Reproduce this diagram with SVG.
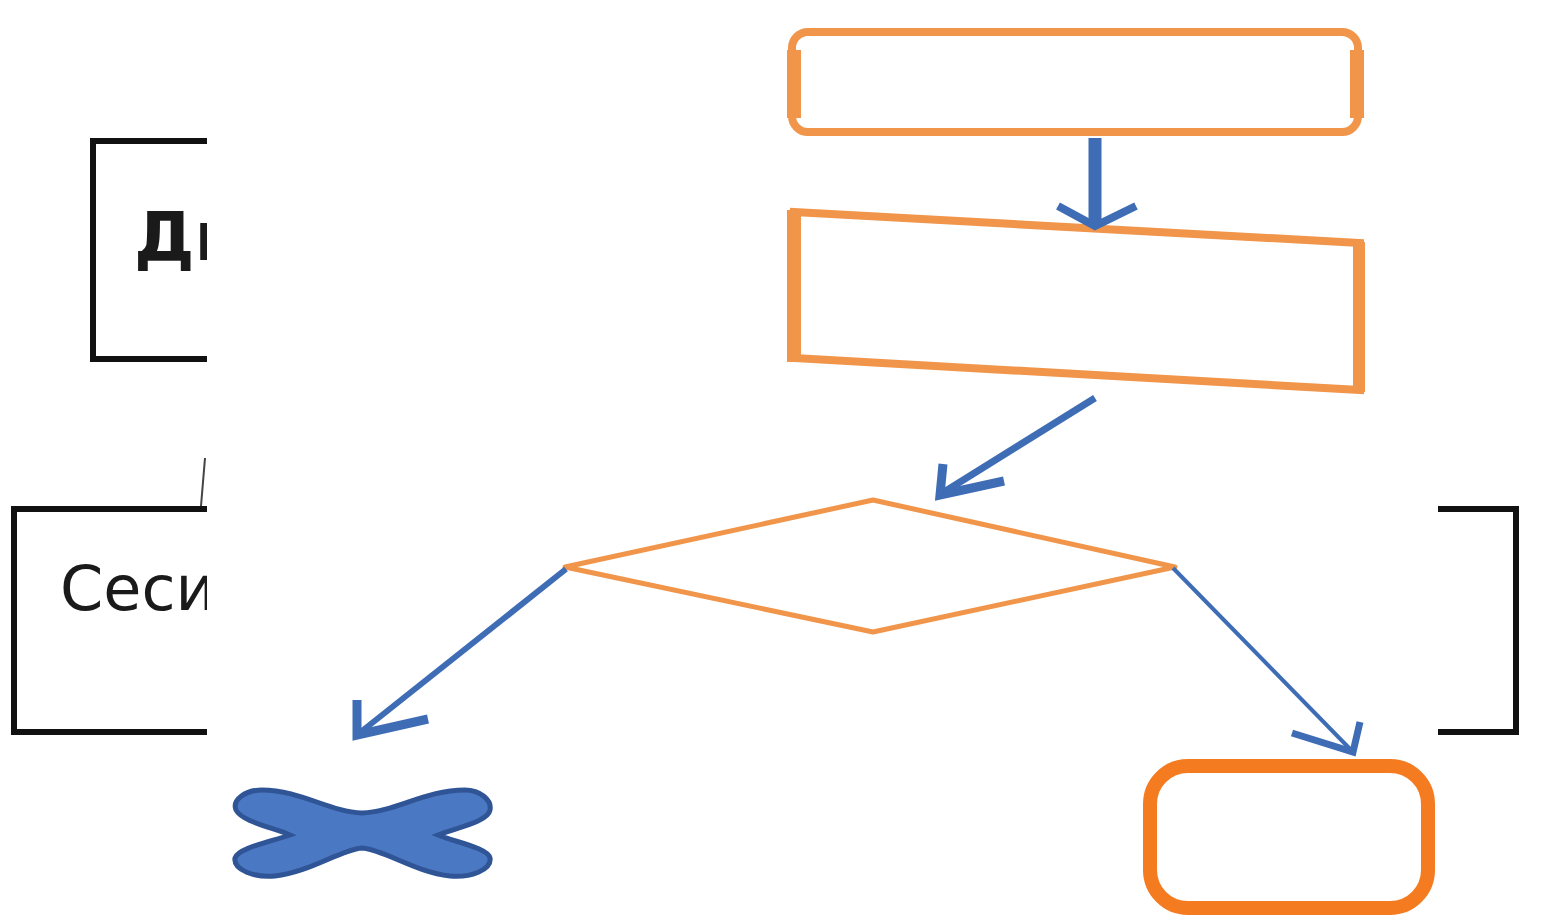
<svg xmlns="http://www.w3.org/2000/svg" width="1557" height="921" viewBox="0 0 1557 921">
<style>
.blk{fill:#fff;stroke:#111;stroke-width:6}
.lbl{font-family:"DejaVu Sans","Noto Sans",sans-serif;fill:#1a1a1a}
.orng{fill:#fff;stroke:#F0954A;stroke-linejoin:round}
.conn{fill:none;stroke:#3E6DB5;stroke-linecap:butt;stroke-linejoin:miter}
</style>
<rect width="1557" height="921" fill="#fff"/>
<g id="node-left-top">
<rect class="blk" x="93" y="141" width="200" height="218"/>
<text class="lbl" x="134" y="260" font-size="68" font-weight="bold">Ди</text>
</g>
<g id="node-bottom-wide">
<rect class="blk" x="14" y="509" width="1502" height="223"/>
<text class="lbl" x="60" y="610" font-size="62">Сеси</text>
</g>
<line x1="205" y1="458" x2="201" y2="506" stroke="#444" stroke-width="2"/>
<rect id="cover" x="207" y="0" width="1231" height="921" fill="#fff"/>
<g id="node-start">
<rect x="792" y="32" width="566" height="100" rx="16" fill="#fff" stroke="#F0954A" stroke-width="8"/>
<line x1="794" y1="50" x2="794" y2="118" stroke="#F0954A" stroke-width="14"/>
<line x1="1357" y1="50" x2="1357" y2="118" stroke="#F0954A" stroke-width="14"/>
</g>
<g id="node-process">
<polygon points="794,212 1360,243 1360,390 794,358" fill="#fff" stroke="#F0954A" stroke-width="8"/>
<line x1="794" y1="210" x2="794" y2="362" stroke="#F0954A" stroke-width="14"/>
<line x1="1359" y1="242" x2="1359" y2="392" stroke="#F0954A" stroke-width="12"/>
</g>
<g id="node-decision">
<polygon class="orng" points="565,567 873,500 1175,567 873,632" stroke-width="5"/>
</g>
<g id="node-end-no">
<path d="M362,813 C330,812 300,790 262,790 C245,790 232,800 236,810 C242,822 275,828 290,835 C270,842 238,848 235,858 C233,870 255,878 275,876 C310,872 340,850 362,848 C385,850 415,872 450,876 C470,878 492,870 490,858 C488,848 455,842 438,835 C455,828 488,822 490,810 C492,800 480,790 465,790 C425,790 395,812 362,813 Z" fill="#4A78C2" stroke="#2F5597" stroke-width="5"/>
</g>
<g id="node-end-yes">
<rect x="1150" y="766" width="278" height="142" rx="38" fill="#fff" stroke="#F47B20" stroke-width="14"/>
</g>
<g id="connectors">
<line class="conn" x1="1095" y1="138" x2="1095" y2="226" stroke-width="13"/>
<polyline class="conn" points="1058,206 1095,226 1136,206" stroke-width="8"/>
<line class="conn" x1="1095" y1="398" x2="944" y2="492" stroke-width="7"/>
<polyline class="conn" points="943,464 940,495 1004,481" stroke-width="9"/>
<line class="conn" x1="566" y1="569" x2="362" y2="731" stroke-width="6"/>
<polyline class="conn" points="357,700 357,735 428,719" stroke-width="9"/>
<line class="conn" x1="1173" y1="568" x2="1352" y2="751" stroke-width="4"/>
<polyline class="conn" points="1292,733 1353,752 1360,722" stroke-width="7"/>
</g>
</svg>
